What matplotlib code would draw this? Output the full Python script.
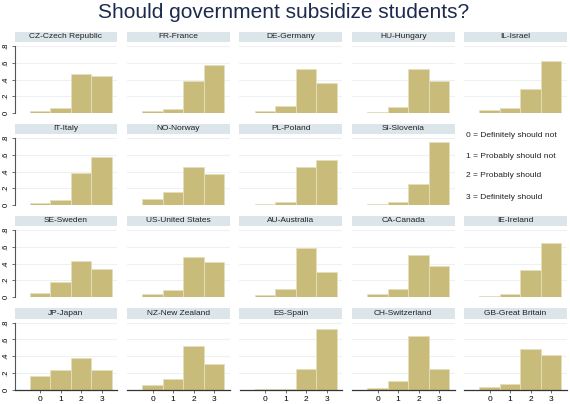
import matplotlib
matplotlib.use("Agg")
import matplotlib.pyplot as plt
from matplotlib.patches import Rectangle

plt.rcParams["font.family"] = ["Liberation Sans", "DejaVu Sans"]

countries = ["CZ-Czech Republic", "FR-France", "DE-Germany", "HU-Hungary", "IL-Israel",
             "IT-Italy", "NO-Norway", "PL-Poland", "SI-Slovenia",
             "SE-Sweden", "US-United States", "AU-Australia", "CA-Canada", "IE-Ireland",
             "JP-Japan", "NZ-New Zealand", "ES-Spain", "CH-Switzerland", "GB-Great Britain"]
# share of answers 0..3 per country
def_not     = [0.02, 0.02, 0.02, 0.01, 0.03, 0.025, 0.07, 0.015, 0.015,
               0.05, 0.03, 0.02, 0.035, 0.015, 0.16, 0.05, 0.005, 0.015, 0.025]
prob_not    = [0.065, 0.045, 0.085, 0.07, 0.065, 0.06, 0.15, 0.04, 0.03,
               0.18, 0.085, 0.10, 0.09, 0.03, 0.23, 0.12, 0.01, 0.10, 0.06]
prob_should = [0.47, 0.38, 0.53, 0.53, 0.29, 0.38, 0.45, 0.45, 0.25,
               0.43, 0.48, 0.59, 0.50, 0.32, 0.38, 0.52, 0.25, 0.64, 0.49]
def_should  = [0.44, 0.57, 0.36, 0.38, 0.62, 0.57, 0.375, 0.54, 0.75,
               0.34, 0.42, 0.30, 0.37, 0.65, 0.23, 0.30, 0.73, 0.24, 0.41]
answers = [0, 1, 2, 3]
legend_lines = ["0 = Definitely should not", "1 = Probably should not",
                "2 = Probably should", "3 = Definitely should"]
yticks = [0, 0.2, 0.4, 0.6, 0.8]
ytick_labels = ["0", ".2", ".4", ".6", ".8"]

W, H = 570, 404
fig = plt.figure(figsize=(W / 100, H / 100), dpi=100)
fig.patch.set_facecolor("white")

bar_col = "#c9bc7a"
head_col = "#dbe5ea"
grid_col = "#edf1f1"

col_left = [14.5, 127, 239.5, 352, 464]
row_top = [42, 134, 226, 318.5]
pw, ph = 102.5, 71
head_h = 10.5

slots = list(range(9)) + list(range(10, 20))
for i, name in enumerate(countries):
    slot = slots[i]
    r, c = slot // 5, slot % 5
    ax = fig.add_axes([col_left[c] / W, 1 - (row_top[r] + ph) / H, pw / W, ph / H])
    vals = [def_not[i], prob_not[i], prob_should[i], def_should[i]]
    ax.bar(answers, vals, width=1.0, color=bar_col, edgecolor="#e6dfbd", linewidth=0.6, zorder=2)
    ax.set_xlim(-1.25, 3.75)
    ax.set_ylim(0, 0.85)
    ax.set_yticks(yticks)
    for y in yticks[1:]:
        ax.axhline(y, color=grid_col, lw=0.8, zorder=1)
    for s in ["top", "right"]:
        ax.spines[s].set_visible(False)
    if c == 0:
        ax.spines["left"].set_color("#555555")
        ax.spines["left"].set_linewidth(0.8)
        ax.spines["left"].set_bounds(0, 0.8)
        ax.set_yticklabels(ytick_labels, rotation=90, va="center", fontsize=5.5)
        ax.tick_params(axis="y", length=2.5, width=0.6, pad=1, color="#555555")
    else:
        ax.spines["left"].set_visible(False)
        ax.tick_params(axis="y", left=False, labelleft=False)
    if r == 3:
        ax.spines["bottom"].set_color("#333333")
        ax.spines["bottom"].set_linewidth(0.9)
        ax.set_xticks(answers)
        ax.set_xticklabels([str(a) for a in answers], fontsize=6)
        ax.tick_params(axis="x", length=2.5, width=0.6, pad=2, color="#555555")
    else:
        ax.spines["bottom"].set_visible(False)
        ax.tick_params(axis="x", bottom=False, labelbottom=False)
    ax.add_patch(Rectangle((0, 1.0), 1, head_h / ph, transform=ax.transAxes,
                           facecolor=head_col, edgecolor="none", clip_on=False))
    ax.text(0.5, 1 + head_h / ph / 2, name, transform=ax.transAxes, ha="center",
            va="center", fontsize=6, color="#222222")

leg_y = [135, 156.5, 176, 197.5]
for txt, y in zip(legend_lines, leg_y):
    fig.text(466 / W, 1 - y / H, txt, fontsize=6, color="#222222", va="center", ha="left")

fig.text(0.498, 1 - 12 / H, "Should government subsidize students?", ha="center",
         va="center", fontsize=15, color="#1c2a4d")

fig.savefig("out.png", dpi=100)
